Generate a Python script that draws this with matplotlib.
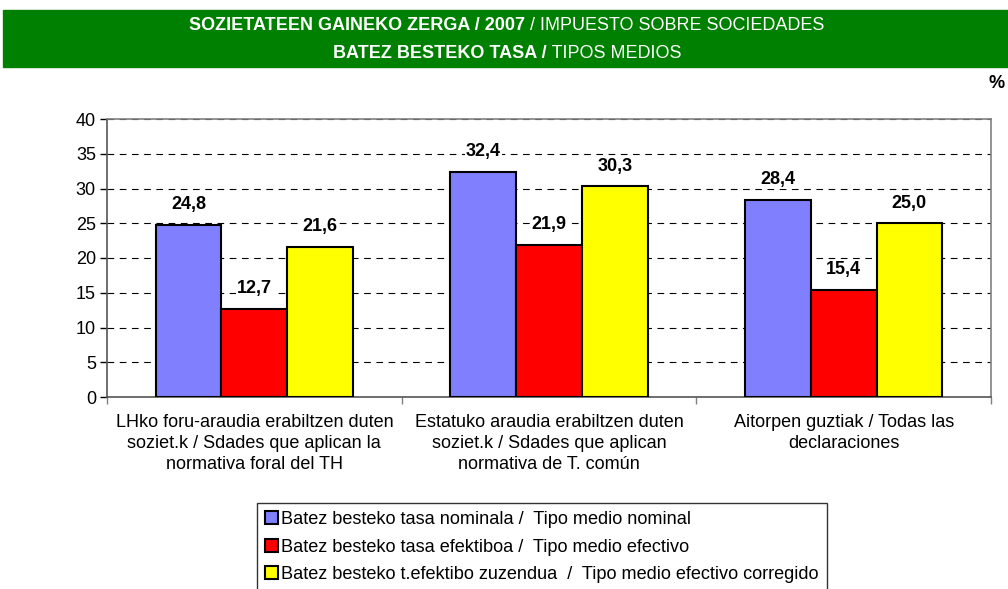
import matplotlib
matplotlib.use("Agg")
import matplotlib.pyplot as plt
import numpy as np
from matplotlib.patches import Rectangle

categories = [
    "LHko foru-araudia erabiltzen duten\nsoziet.k / Sdades que aplican la\nnormativa foral del TH",
    "Estatuko araudia erabiltzen duten\nsoziet.k / Sdades que aplican\nnormativa de T. común",
    "Aitorpen guztiak / Todas las\ndeclaraciones",
]
series_names = [
    "Batez besteko tasa nominala /  Tipo medio nominal",
    "Batez besteko tasa efektiboa /  Tipo medio efectivo",
    "Batez besteko t.efektibo zuzendua  /  Tipo medio efectivo corregido",
]
nominal = [24.8, 32.4, 28.4]
efectivo = [12.7, 21.9, 15.4]
corregido = [21.6, 30.3, 25.0]
colors = ["#8080FF", "#FF0000", "#FFFF00"]
yticks = [0, 5, 10, 15, 20, 25, 30, 35, 40]

plt.rcParams['font.family'] = ['Liberation Sans', 'DejaVu Sans']
FS = 13

W, H = 1008, 589
fig = plt.figure(figsize=(W / 100, H / 100), dpi=100)

# Green banner
fig.patches.append(Rectangle((3 / W, 1 - 67 / H), 1 - 3 / W, 57 / H,
                             transform=fig.transFigure, color="#008000", zorder=0))
t1a = "SOZIETATEEN GAINEKO ZERGA / 2007"
t1b = " / IMPUESTO SOBRE SOCIEDADES"
t2a = "BATEZ BESTEKO TASA /"
t2b = " TIPOS MEDIOS"


def two_part(y, a, b):
    r = fig.canvas.get_renderer()
    ta = fig.text(0, y, a, fontsize=FS, fontweight="bold", color="white", va="center")
    tb = fig.text(0, y, b, fontsize=FS, color="white", va="center")
    wa = ta.get_window_extent(r).width
    wb = tb.get_window_extent(r).width
    x0 = (507 - (wa + wb) / 2) / W
    ta.set_x(x0)
    tb.set_x(x0 + wa / W)


two_part(1 - 26 / H, t1a, t1b)
two_part(1 - 53 / H, t2a, t2b)

fig.text(997 / W, 1 - 84 / H, "%", fontsize=FS, fontweight="bold", ha="center", va="center")

ax = fig.add_axes([107 / W, 1 - 397 / H, (991 - 107) / W, (397 - 119) / H])
x = np.arange(len(categories))
bw = 0.223
data = [nominal, efectivo, corregido]
for i, (vals, c, name) in enumerate(zip(data, colors, series_names)):
    pos = x + (i - 1) * bw
    ax.bar(pos, vals, width=bw, color=c, edgecolor="black", linewidth=1.5,
           label=name, zorder=3)
    for p, v in zip(pos, vals):
        ax.annotate(f"{v:.1f}".replace(".", ","), (p, v), xytext=(0, 14.5),
                    textcoords="offset points", ha="center", va="center",
                    fontsize=FS, fontweight="bold", zorder=5,
                    bbox=dict(boxstyle="square,pad=0.05", fc="white", ec="none"))

ax.set_xlim(-0.5, 2.5)
ax.set_ylim(0, 40)
ax.set_yticks(yticks)
ax.set_yticklabels([str(v) for v in yticks], fontsize=FS)
ax.yaxis.grid(True, linestyle=(0, (6, 5)), color="black", linewidth=0.8, zorder=0)
ax.set_axisbelow(True)
ax.tick_params(axis="y", length=5, width=1, direction="out", pad=3)

ax.set_xticks([-0.5, 0.5, 1.5, 2.5])
ax.set_xticklabels([])
ax.tick_params(axis="x", length=5, width=1, direction="out", colors="#808080")
ax.set_xticks(x, minor=True)
ax.set_xticklabels(categories, minor=True, fontsize=FS, linespacing=1.32)
ax.tick_params(axis="x", which="minor", length=0, pad=12, labelcolor="black")

for s in ["top", "right"]:
    ax.spines[s].set_color("#808080")
    ax.spines[s].set_linewidth(1.2)
for s in ["left", "bottom"]:
    ax.spines[s].set_color("#555555")
    ax.spines[s].set_linewidth(1.2)

leg = fig.legend(loc="upper left", bbox_to_anchor=(257 / W, 1 - 503 / H),
                 fontsize=13.1, frameon=True, fancybox=False, edgecolor="black",
                 handlelength=0.72, handleheight=0.72, handletextpad=0.15,
                 borderpad=0.45, labelspacing=0.58, borderaxespad=0)
leg.get_frame().set_linewidth(1.0)

fig.savefig("out.png", dpi=100)
